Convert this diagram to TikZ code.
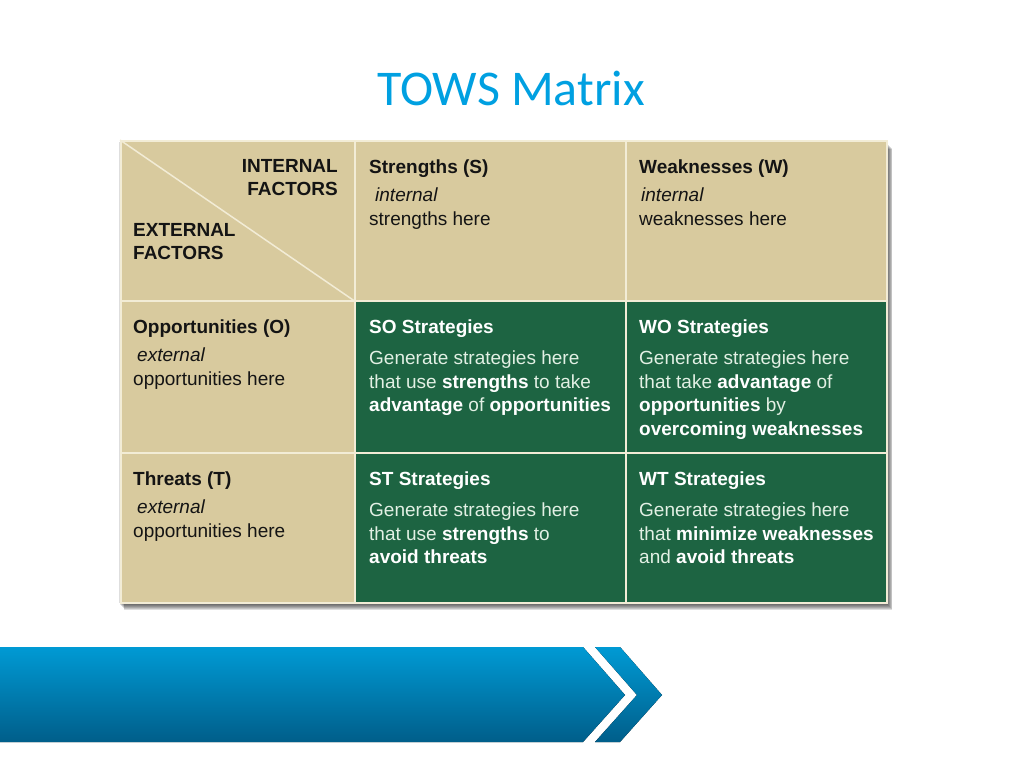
\documentclass[tikz,border=0pt]{standalone}
\usepackage{fontspec}
\setmainfont{Liberation Sans}
\newfontfamily\titlefont{Carlito}

\definecolor{towsblue}{RGB}{0,160,225}
\definecolor{beige}{RGB}{216,202,158}
\definecolor{forest}{RGB}{29,100,66}
\definecolor{gridline}{RGB}{242,236,214}
\definecolor{mint}{RGB}{226,240,228}
\definecolor{bandtop}{RGB}{0,154,212}
\definecolor{bandbot}{RGB}{0,94,138}

\newcommand{\bw}[1]{\textbf{\textcolor{white}{#1}}}

\begin{document}
\begin{tikzpicture}[
	x=1pt, y=-1pt,
	cell/.style={rectangle, draw=gridline, line width=2pt, inner sep=0pt, anchor=north west},
	tan/.style={cell, fill=beige},
	strat/.style={cell, fill=forest},
	celltext/.style={anchor=north west, inner sep=0pt, align=left, font=\fontsize{19}{23.5}\selectfont, text=black!92},
	strattext/.style={celltext, text=mint},
	band/.style={top color=bandtop, bottom color=bandbot}
	]
	
	\useasboundingbox (0,0) rectangle (1024,768);
	
	% Title
	\node[anchor=base, font=\titlefont\fontsize{50}{54}\selectfont, text=towsblue] (title) at (511,105) {TOWS Matrix};
	
	% Shadow
	\foreach \i in {1,...,8}
		\fill[black, opacity=0.13] (118+0.8*\i, 141+\i) rectangle (886+0.8*\i, 602+\i);
	
	% Cells
	\node[tan, minimum width=234pt, minimum height=160pt] (c00) at (120,140) {};
	\node[tan, minimum width=271pt, minimum height=160pt] (c01) at (354,140) {};
	\node[tan, minimum width=261pt, minimum height=160pt] (c02) at (625,140) {};
	\node[tan, minimum width=234pt, minimum height=152pt] (c10) at (120,300) {};
	\node[strat, minimum width=271pt, minimum height=152pt] (c11) at (354,300) {};
	\node[strat, minimum width=261pt, minimum height=152pt] (c12) at (625,300) {};
	\node[tan, minimum width=234pt, minimum height=150pt] (c20) at (120,452) {};
	\node[strat, minimum width=271pt, minimum height=150pt] (c21) at (354,452) {};
	\node[strat, minimum width=261pt, minimum height=150pt] (c22) at (625,452) {};
	
	% Diagonal of the corner cell
	\draw[gridline, line width=1.5pt] (c00.north west) -- (c00.south east);
	
	% Corner labels
	\node[celltext, anchor=north east, align=right, font=\fontsize{19}{23.5}\selectfont\bfseries] (internal) at (338,155.5) {\strut INTERNAL\\FACTORS};
	\node[celltext, font=\fontsize{19}{23.5}\selectfont\bfseries] (external) at (133,219.5) {\strut EXTERNAL\\FACTORS};
	
	% Header row
	\node[celltext] (strengths) at (369,156.5) {\strut\textbf{Strengths (S)}\\[5pt]\hspace*{6pt}\textit{internal}\\strengths here};
	\node[celltext] (weaknesses) at (639,156.5) {\strut\textbf{Weaknesses (W)}\\[5pt]\hspace*{2pt}\textit{internal}\\weaknesses here};
	
	% Header column
	\node[celltext] (opps) at (133,316.5) {\strut\textbf{Opportunities (O)}\\[5pt]\hspace*{4pt}\textit{external}\\opportunities here};
	\node[celltext] (threats) at (133,468.5) {\strut\textbf{Threats (T)}\\[5pt]\hspace*{4pt}\textit{external}\\opportunities here};
	
	% Strategies
	\node[strattext] (so) at (369,316.5) {\strut\bw{SO Strategies}\\[8pt]Generate strategies here\\that use \bw{strengths} to take\\\bw{advantage} of \bw{opportunities}};
	\node[strattext] (wo) at (639,316.5) {\strut\bw{WO Strategies}\\[8pt]Generate strategies here\\that take \bw{advantage} of\\\bw{opportunities} by\\\bw{overcoming weaknesses}};
	\node[strattext] (st) at (369,468.5) {\strut\bw{ST Strategies}\\[8pt]Generate strategies here\\that use \bw{strengths} to\\\bw{avoid threats}};
	\node[strattext] (wt) at (639,468.5) {\strut\bw{WT Strategies}\\[8pt]Generate strategies here\\that \bw{minimize weaknesses}\\and \bw{avoid threats}};
	
	% Blue band with chevron
	\fill[band] (0,647) -- (583,647) -- (625,695) -- (583,742) -- (0,742) -- cycle;
	\fill[band] (595,647) -- (620,647) -- (662,695) -- (620,742) -- (595,742) -- (637,695) -- cycle;
	
\end{tikzpicture}
\end{document}
